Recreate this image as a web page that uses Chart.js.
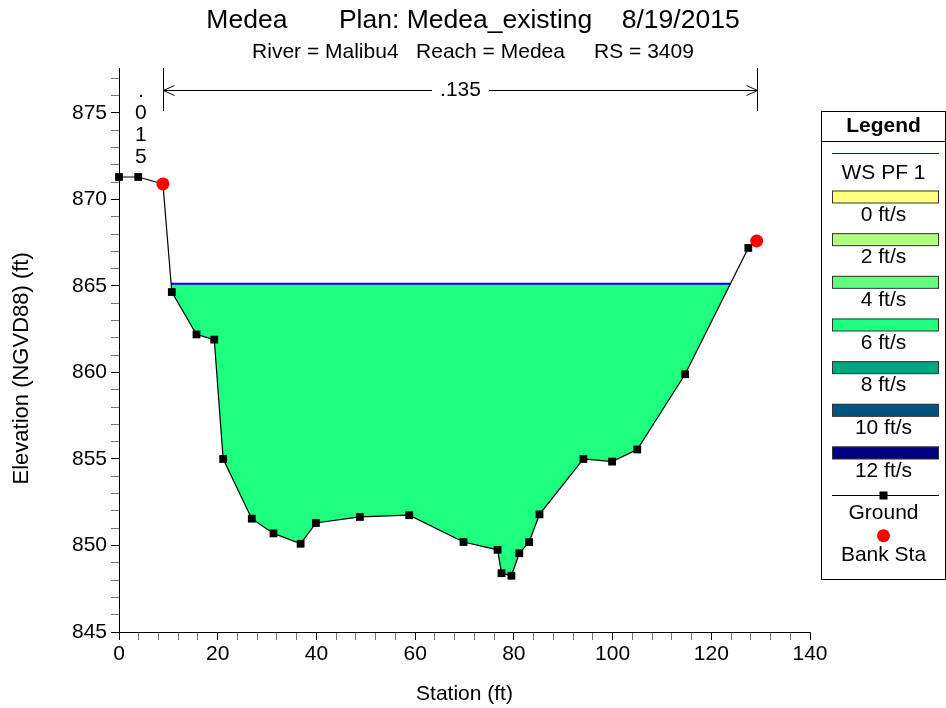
<!DOCTYPE html>
<html><head><meta charset="utf-8">
<script src="https://cdn.jsdelivr.net/npm/chart.js@4.4.0/dist/chart.umd.min.js"></script>
<style>html,body{margin:0;padding:0;background:#fff}canvas{display:block}</style>
</head><body>
<canvas id="c" width="946" height="708"></canvas>
<script>
// ---- data ----
const groundStation   = [0, 3.9, 8.9, 10.7, 15.7, 19.3, 21.1, 26.9, 31.3, 36.8, 39.9, 48.8, 58.8, 69.8, 76.7, 77.5, 79.5, 81.1, 83.1, 85.2, 94.1, 99.9, 105.0, 114.7, 127.5, 129.2];
const groundElevation = [871.3, 871.3, 870.9, 864.65, 862.2, 861.9, 855.0, 851.55, 850.7, 850.1, 851.3, 851.65, 851.75, 850.2, 849.75, 848.4, 848.25, 849.55, 850.2, 851.8, 855.0, 854.85, 855.55, 859.9, 867.2, 867.6];
const bankStation     = [8.9, 129.2];
const bankElevation   = [870.9, 867.6];
const wsStation       = [10.56, 123.87];
const wsElevation     = [865.13, 865.13];
const manningN        = ['.015', '.135'];
const manningStart    = [0, 8.9];
const manningEnd      = [8.9, 129.2];
const xTickLabels     = [0, 20, 40, 60, 80, 100, 120, 140];
const yTickLabels     = [845, 850, 855, 860, 865, 870, 875];
const velocityLabels  = ['0 ft/s', '2 ft/s', '4 ft/s', '6 ft/s', '8 ft/s', '10 ft/s', '12 ft/s'];
const velocityColors  = ['#FFFF80', '#B0FF80', '#60FF80', '#1EFF80', '#00A880', '#005480', '#000080'];

const FONT = "'Liberation Sans', Arial, Helvetica, sans-serif";
Chart.defaults.font.family = FONT;
Chart.defaults.color = '#000';

const toXY = (xs, ys) => xs.map((x, i) => ({x: x, y: ys[i]}));

const extras = {
  id: 'extras',
  afterDraw(chart) {
    const ctx = chart.ctx;
    const xs = chart.scales.x;
    const top = chart.chartArea.top;
    ctx.save();
    ctx.strokeStyle = '#000';
    ctx.fillStyle = '#000';
    ctx.lineWidth = 1;
    // Manning n regions
    const b0 = Math.round(xs.getPixelForValue(manningEnd[0])) + 0.5;
    const b1 = Math.round(xs.getPixelForValue(manningEnd[1])) + 0.5;
    [b0, b1].forEach(px => {
      ctx.beginPath(); ctx.moveTo(px, top); ctx.lineTo(px, top + 43); ctx.stroke();
    });
    const ay = top + 22.5;
    ctx.font = '21px ' + FONT;
    ctx.textAlign = 'center';
    ctx.textBaseline = 'middle';
    const cx = (b0 + b1) / 2;
    const w = ctx.measureText(manningN[1]).width;
    ctx.beginPath();
    ctx.moveTo(b0, ay); ctx.lineTo(cx - w / 2 - 8, ay);
    ctx.moveTo(cx + w / 2 + 8, ay); ctx.lineTo(b1, ay);
    ctx.moveTo(b0 + 11, ay - 5); ctx.lineTo(b0, ay); ctx.lineTo(b0 + 11, ay + 5);
    ctx.moveTo(b1 - 11, ay - 5); ctx.lineTo(b1, ay); ctx.lineTo(b1 - 11, ay + 5);
    ctx.stroke();
    ctx.fillText(manningN[1], cx, ay);
    // narrow region: stacked characters
    const lx = (xs.getPixelForValue(manningStart[0]) + xs.getPixelForValue(manningEnd[0])) / 2;
    manningN[0].split('').forEach((ch, i) => ctx.fillText(ch, lx, top + 23 + i * 22));

    // Legend box
    const L = {x0: 821.5, x1: 945.5, y0: 111.5, y1: 579.5, head: 141.5};
    const lc = (L.x0 + L.x1) / 2;
    ctx.strokeRect(L.x0, L.y0, L.x1 - L.x0, L.y1 - L.y0);
    ctx.beginPath(); ctx.moveTo(L.x0, L.head); ctx.lineTo(L.x1, L.head); ctx.stroke();
    ctx.font = 'bold 21px ' + FONT;
    ctx.fillText('Legend', lc, 126.5);
    ctx.font = '21px ' + FONT;
    const ds = chart.data.datasets;
    // WS line
    ctx.strokeStyle = '#0000FF';
    ctx.lineWidth = 1.2;
    ctx.beginPath(); ctx.moveTo(832, 153.5); ctx.lineTo(939, 153.5); ctx.stroke();
    ctx.lineWidth = 1;
    ctx.fillText(ds[2].label, lc, 173);
    // velocity classes
    velocityLabels.forEach((lab, i) => {
      const y = 190.5 + i * 42.67;
      ctx.fillStyle = velocityColors[i];
      ctx.fillRect(832, y, 107, 12.5);
      ctx.strokeStyle = '#333';
      ctx.strokeRect(832.5, y + 0.5, 106, 12);
      ctx.fillStyle = '#000';
      ctx.fillText(lab, lc, y + 24.5);
    });
    // Ground
    ctx.strokeStyle = '#000';
    ctx.beginPath(); ctx.moveTo(832, 495.5); ctx.lineTo(939, 495.5); ctx.stroke();
    ctx.fillRect(lc - 4, 495.5 - 4, 8, 8);
    ctx.fillText(ds[1].label, lc, 513);
    // Bank Sta
    ctx.fillStyle = '#FF0000';
    ctx.beginPath(); ctx.arc(lc, 535.7, 6.5, 0, Math.PI * 2); ctx.fill();
    ctx.fillStyle = '#000';
    ctx.fillText(ds[0].label, lc, 555);
    ctx.restore();
  }
};

const yMinorTicks = [];
for (let v = yTickLabels[0]; v <= yTickLabels[yTickLabels.length - 1] + 2; v += 1) yMinorTicks.push(v);
const xMinorTicks = [];
for (let v = xTickLabels[0]; v <= xTickLabels[xTickLabels.length - 1]; v += 4) xMinorTicks.push(v);

new Chart(document.getElementById('c'), {
  type: 'scatter',
  data: {
    datasets: [
      {
        label: 'Bank Sta',
        data: toXY(bankStation, bankElevation),
        pointStyle: 'circle', pointRadius: 6.5, pointHoverRadius: 6.5,
        backgroundColor: '#FF0000', borderWidth: 0, pointBorderWidth: 0,
        showLine: false, clip: false
      },
      {
        label: 'Ground',
        data: toXY(groundStation, groundElevation),
        showLine: true, borderColor: '#000', borderWidth: 1.2,
        pointStyle: 'rect', pointRadius: 5.5, pointHoverRadius: 5.5,
        pointBackgroundColor: '#000', pointBorderWidth: 0,
        backgroundColor: '#000', fill: false, tension: 0, clip: false
      },
      {
        label: 'WS PF 1',
        data: toXY(wsStation, wsElevation),
        showLine: true, borderColor: '#0000FF', borderWidth: 1.8,
        pointRadius: 0, pointHoverRadius: 0,
        backgroundColor: velocityColors[3],
        fill: {target: 1, above: velocityColors[3], below: 'rgba(0,0,0,0)'},
        tension: 0, clip: false
      }
    ]
  },
  options: {
    responsive: false,
    animation: false,
    events: [],
    layout: {padding: {left: 0, right: 0, top: 0, bottom: 0}},
    plugins: {
      legend: {display: false},
      tooltip: {enabled: false},
      title: {
        display: true,
        text: 'Medea       Plan: Medea_existing    8/19/2015',
        font: {size: 26.5, weight: 'normal'}, color: '#000',
        padding: {top: 4.7, bottom: 0}
      },
      subtitle: {
        display: true,
        text: 'River = Malibu4   Reach = Medea     RS = 3409',
        font: {size: 21, weight: 'normal'}, color: '#000',
        padding: {top: 3.2, bottom: 3.1}
      }
    },
    scales: {
      x: {
        type: 'linear', position: 'bottom', min: 0, max: 140,
        afterFit(s) { s.height = 76; },
        afterBuildTicks(s) { s.ticks = xMinorTicks.map(v => ({value: v})); },
        ticks: {
          autoSkip: false, maxRotation: 0, padding: 2,
          font: {size: 21}, color: '#000',
          callback: v => xTickLabels.includes(v) ? String(v) : ''
        },
        grid: {
          drawOnChartArea: false, drawTicks: true, tickLength: 8,
          tickColor: c => (c.tick && xTickLabels.includes(c.tick.value)) ? '#000' : '#777'
        },
        border: {display: true, color: '#000', width: 1},
        title: {display: true, text: 'Station (ft)', font: {size: 21}, color: '#000', padding: {top: 0, bottom: 1.4}}
      },
      y: {
        type: 'linear', position: 'left', min: 845, max: 877.6,
        afterFit(s) { s.width = 119; },
        afterBuildTicks(s) { s.ticks = yMinorTicks.map(v => ({value: v})); },
        ticks: {
          autoSkip: false, padding: 4,
          font: {size: 21}, color: '#000',
          callback: v => yTickLabels.includes(v) ? String(v) : ''
        },
        grid: {
          drawOnChartArea: false, drawTicks: true, tickLength: 8,
          tickColor: c => (c.tick && yTickLabels.includes(c.tick.value)) ? '#000' : '#777'
        },
        border: {display: true, color: '#000', width: 1},
        title: {display: true, text: 'Elevation (NGVD88) (ft)      ', font: {size: 22}, color: '#000', padding: {top: 8.8, bottom: 0}}
      },
      legendSpace: {
        type: 'linear', position: 'right', display: true,
        afterFit(s) { s.width = 136; },
        ticks: {display: false},
        grid: {display: false, drawTicks: false},
        border: {display: false},
        title: {display: false}
      }
    }
  },
  plugins: [extras]
});
</script>
</body></html>
